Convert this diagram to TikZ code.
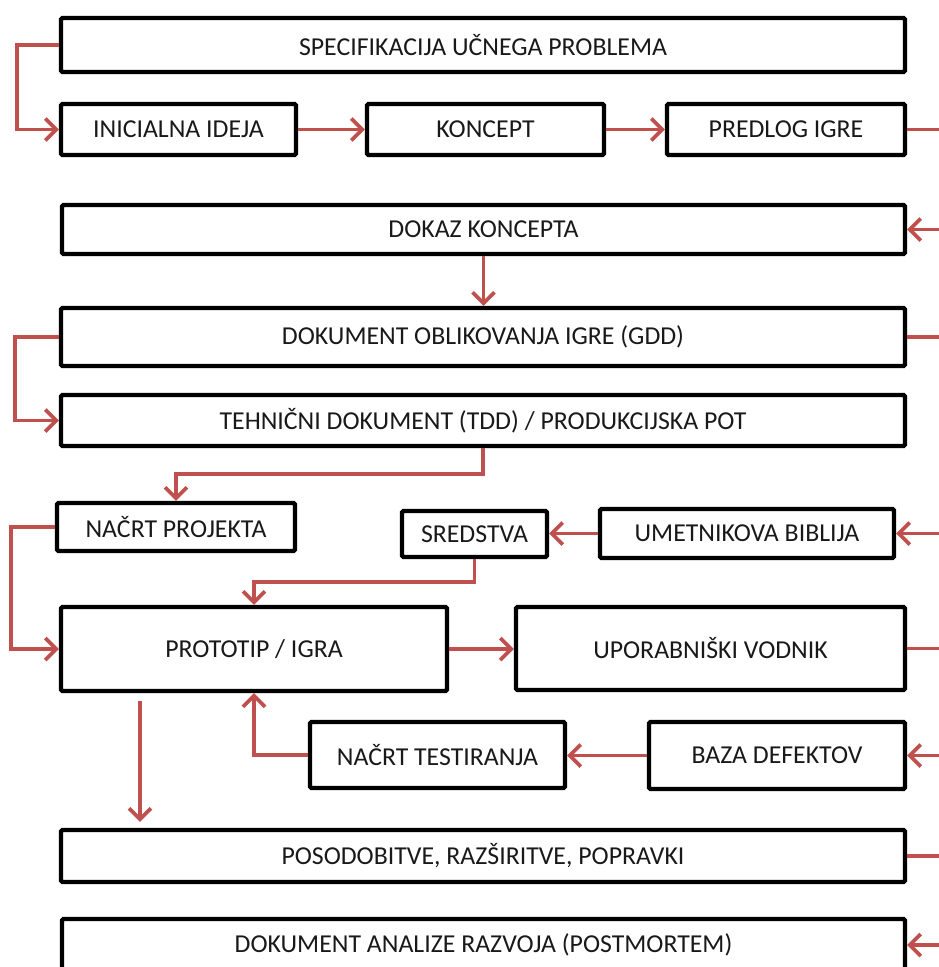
\documentclass[tikz,border=0pt]{standalone}
\usepackage{fontspec}
\setmainfont{Carlito}
\usetikzlibrary{arrows.meta}
\definecolor{linkred}{RGB}{192,80,77}
\definecolor{ink}{RGB}{25,25,25}
\begin{document}
\begin{tikzpicture}[x=1pt,y=-1pt,
  box/.style={draw=black, line width=4.4pt, rounded corners=1.5pt, fill=white,
    inner sep=0pt, text=ink, font=\fontsize{25.8}{30}\selectfont},
  link/.style={draw=linkred, line width=3.6pt},
  arr/.style={link, -{Straight Barb[length=11pt,width=22pt,line width=3.6pt]}}]
\useasboundingbox (0,0) rectangle (939,967);
\fill[white] (0,0) rectangle (939,967);
\clip (0,0) rectangle (939,967);

% process boxes
\node[box, minimum width=844pt, minimum height=54pt] (spec)    at (483,45)      {SPECIFIKACIJA UČNEGA PROBLEMA};
\node[box, minimum width=235pt, minimum height=51pt] (idea)    at (178.5,129.5) {INICIALNA IDEJA};
\node[box, minimum width=237pt, minimum height=51pt] (koncept) at (485.5,129.5) {KONCEPT};
\node[box, minimum width=238pt, minimum height=51pt] (predlog) at (786,129.5)   {PREDLOG IGRE};
\node[box, minimum width=843pt, minimum height=49pt] (dokaz)   at (483.5,229.5) {DOKAZ KONCEPTA};
\node[box, minimum width=844pt, minimum height=58pt] (gdd)     at (483,337)     {DOKUMENT OBLIKOVANJA IGRE (GDD)};
\node[box, minimum width=844pt, minimum height=51pt] (tdd)     at (483,420.5)   {TEHNIČNI DOKUMENT (TDD) / PRODUKCIJSKA POT};
\node[box, minimum width=238pt, minimum height=48pt] (nacrtp)  at (176,527)     {NAČRT PROJEKTA};
\node[box, minimum width=145pt, minimum height=46pt] (sred)    at (474.5,534)   {SREDSTVA};
\node[box, minimum width=294pt, minimum height=49pt] (umet)    at (747,533.5)   {UMETNIKOVA BIBLIJA};
\node[box, minimum width=386pt, minimum height=84pt] (proto)   at (254,649)     {PROTOTIP / IGRA};
\node[box, minimum width=389pt, minimum height=83pt] (upor)    at (710.5,648.5) {UPORABNIŠKI VODNIK};
\node[box, minimum width=255pt, minimum height=66pt] (test)    at (437.5,755)   {NAČRT TESTIRANJA};
\node[box, minimum width=256pt, minimum height=67pt] (baza)    at (777,755.5)   {BAZA DEFEKTOV};
\node[box, minimum width=844pt, minimum height=52pt] (posod)   at (483,856)     {POSODOBITVE, RAZŠIRITVE, POPRAVKI};
\node[box, minimum width=843pt, minimum height=52pt] (post)    at (483.5,945)   {DOKUMENT ANALIZE RAZVOJA (POSTMORTEM)};

% loose ends running off the right margin
\coordinate (outA) at (945,129.5);
\coordinate (inB)  at (945,229.5);
\coordinate (outC) at (945,337);
\coordinate (inD)  at (945,533.5);
\coordinate (outE) at (945,648.5);
\coordinate (inF)  at (945,755.5);
\coordinate (outG) at (945,856);
\coordinate (inH)  at (945,945);

% connectors
\draw[arr] (spec.west) -- ++(-42,0) |- (idea.west);
\draw[arr] (idea) -- (koncept);
\draw[arr] (koncept) -- (predlog);
\draw[link] (predlog.east) -- (outA);
\draw[arr] (inB) -- (dokaz.east);
\draw[arr] (dokaz.south) -- (dokaz.south |- gdd.north);
\draw[arr] (gdd.west) -- ++(-44,0) |- (tdd.west);
\draw[link] (gdd.east) -- (outC);
\draw[arr] (tdd.south) -- ++(0,26) -| (nacrtp.north);
\draw[arr] (nacrtp.west) -- ++(-44,0) |- (proto.west);
\draw[arr] (umet.west) -- (umet.west -| sred.east);
\draw[arr] (inD) -- (umet.east);
\draw[arr] (sred.south) -- ++(0,23) -| (proto.north);
\draw[arr] (proto.east) -- (proto.east -| upor.west);
\draw[link] (upor.east) -- (outE);
\draw[arr] (inF) -- (baza.east);
\draw[arr] (baza.west) -- (baza.west -| test.east);
\draw[arr] (test.west) -| (proto.south);
\coordinate (dn) at ([xshift=-114pt,yshift=-8pt]proto.south);
\draw[arr, shorten >=6pt] (dn) -- (dn |- posod.north);
\draw[link] (posod.east) -- (outG);
\draw[arr] (inH) -- (post.east);
\end{tikzpicture}
\end{document}
